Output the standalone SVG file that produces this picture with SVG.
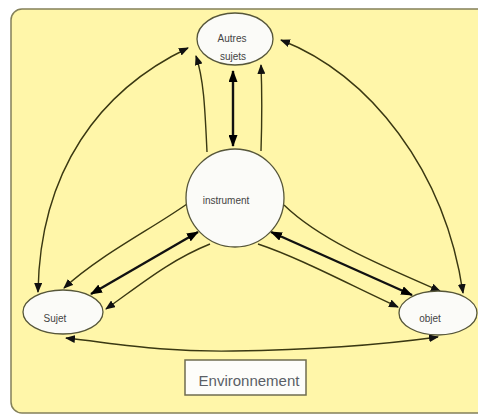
<svg xmlns="http://www.w3.org/2000/svg" width="478" height="417" viewBox="0 0 478 417">
<style>
.node{fill:#fbfbf8;stroke:#56563a;stroke-width:1.3}
.lbl{font-family:"Liberation Sans",Arial,sans-serif;font-size:10px;fill:#444444;text-anchor:middle}
.thin{fill:none;stroke:#3a3812;stroke-width:1.4}
.thick{fill:none;stroke:#111;stroke-width:2.4}
</style>
<defs>
<marker id="a" markerUnits="userSpaceOnUse" markerWidth="10" markerHeight="8" refX="9" refY="4" orient="auto-start-reverse">
<path d="M0,0 L10,4 L0,8 Z" fill="#111"/>
</marker>
<marker id="b" markerUnits="userSpaceOnUse" markerWidth="12" markerHeight="9" refX="11" refY="4.5" orient="auto-start-reverse">
<path d="M0,0 L12,4.5 L0,9 Z" fill="#000"/>
</marker>
</defs>
<rect x="0" y="0" width="478" height="417" fill="#ffffff"/>
<rect x="11" y="9" width="480" height="404" rx="11" fill="#fff6a9" stroke="#84805a" stroke-width="1.5"/>
<g id="connectors">
<path class="thick" d="M233,146 L233,71" marker-start="url(#b)" marker-end="url(#b)"/>
<path class="thin" d="M207,152 C205,110 204,80 196,56" marker-end="url(#a)"/>
<path class="thin" d="M261,151 C262,120 262,90 261,65" marker-end="url(#a)"/>
<path class="thin" d="M188,48 C100,90 40,170 38,292" marker-start="url(#a)" marker-end="url(#a)"/>
<path class="thin" d="M281,40 C370,75 445,170 463,293" marker-start="url(#a)" marker-end="url(#a)"/>
<path class="thin" d="M66,338 C120,344 160,352 233,351 C310,350 380,345 438,337" marker-start="url(#a)" marker-end="url(#a)"/>
<path class="thick" d="M198,232 L91,294" marker-start="url(#b)" marker-end="url(#b)"/>
<path class="thin" d="M187,204 C150,230 100,255 64,288" marker-end="url(#a)"/>
<path class="thin" d="M210,244 C170,260 140,285 106,309" marker-end="url(#a)"/>
<path class="thick" d="M271,232 L412,295" marker-start="url(#b)" marker-end="url(#b)"/>
<path class="thin" d="M284,205 C320,240 380,265 440,291" marker-end="url(#a)"/>
<path class="thin" d="M258,244 C300,258 350,285 398,307" marker-end="url(#a)"/>
</g>
<g id="autres">
<ellipse class="node" cx="235" cy="39" rx="38" ry="26"/>
<text class="lbl" x="232" y="42">Autres</text>
<text class="lbl" x="233" y="60">sujets</text>
</g>
<g id="instrument">
<circle class="node" cx="235" cy="198" r="49"/>
<text class="lbl" x="226" y="204">instrument</text>
</g>
<g id="sujet">
<ellipse class="node" cx="63" cy="312" rx="40" ry="22"/>
<text class="lbl" x="55" y="322">Sujet</text>
</g>
<g id="objet">
<ellipse class="node" cx="438" cy="313" rx="39" ry="22"/>
<text class="lbl" x="430" y="322">objet</text>
</g>
<g id="environnement">
<rect x="185" y="360" width="121" height="35" fill="#fdfdfa" stroke="#6f6c50" stroke-width="1.5"/>
<text x="249" y="386" font-family="'Liberation Sans',Arial,sans-serif" font-size="15" fill="#5a5f66" text-anchor="middle">Environnement</text>
</g>
</svg>
